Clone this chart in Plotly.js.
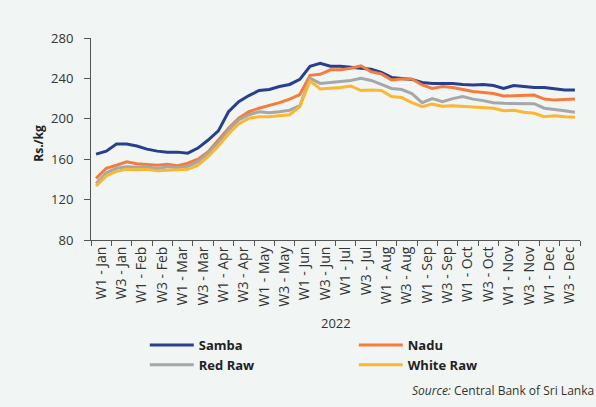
<!DOCTYPE html>
<html>
<head>
<meta charset="utf-8">
<script src="https://cdn.plot.ly/plotly-3.0.1.min.js"></script>
<style>html,body{margin:0;padding:0;background:#f1f6f4;}#chart{width:596px;height:407px;}</style>
</head>
<body>
<div id="chart"></div>
<script>
const months = ["Jan","Feb","Mar","Apr","May","Jun","Jul","Aug","Sep","Oct","Nov","Dec"];
const tickLabels = [];
months.forEach(m => { tickLabels.push("W1 - " + m); tickLabels.push("W3 - " + m); });

const samba = [165,168,175,175,173,170,168,167,167,166,171,179,188,207,217,223,228,229,232,234,239,252,255,252,252,251,250,249,246,241,240,239,236,235,235,235,234,233.5,234,233,230,233,232,231,231,229.5,228.5,228.5];
const nadu = [141,151,154,157.5,155.5,155,154,155,153.5,156,160,167.5,179,190.5,200.5,207,210.5,213,216,219.5,224,243,244,248.5,248.5,250,252.5,246.5,244.5,238.5,239.5,239.5,233.5,230,232,231,229,227,226,225,222.5,223,223.5,223.5,219.5,218.5,219,219.5];
const redRaw = [136,146.5,151,152.5,152,152.5,150.5,152.5,151.5,153,157.5,166,176.5,189,199,204,207,206,207,208.5,213,240,235,236,237.5,238,240,238,234,230,229,225,216,220,217,220,222,219.5,218,216,215.3,215.3,214.7,215,210.5,209.5,208,206.5];
const whiteRaw = [133.5,143.5,148,150,149.5,150,148.5,149,149,150,154,162.5,173,185,195,200.5,202,202,203,204,212,237.5,229.5,230,231,232.5,228,228.5,228,222,221,216,212,214.5,212.5,213,212.5,212,211.5,210.5,208,208.5,206.5,205.5,202,203,202,201.5];

const weeks = samba.map((_, i) => i);
const labelPos = tickLabels.map((_, k) => 2 * k + 0.5);
const boundaries = [];
for (let k = 0; k <= tickLabels.length; k++) boundaries.push(2 * k - 0.5);

const font = "'Open Sans', sans-serif";
function tr(name, y, color) {
  return {x: weeks, y: y, name: name, type: 'scatter', mode: 'lines',
          line: {color: color, width: 3}};
}
const data = [
  tr('Samba', samba, '#283f8e'),
  tr('Nadu', nadu, '#f47c3c'),
  tr('Red Raw', redRaw, '#a5a7a9'),
  tr('White Raw', whiteRaw, '#fbb731')
];
const layout = {
  width: 596, height: 407,
  paper_bgcolor: '#f1f6f4', plot_bgcolor: '#f1f6f4',
  margin: {l: 91, r: 16, t: 38, b: 167},
  font: {family: font, size: 12, color: '#333'},
  showlegend: true,
  legend: {orientation: 'h', x: 0.11, xanchor: 'left', y: -0.4455, yanchor: 'top',
           entrywidth: 150, entrywidthmode: 'pixels', itemwidth: 44,
           font: {family: font, size: 13, color: '#222', weight: 'bold'},
           tracegroupgap: 0, bgcolor: 'rgba(0,0,0,0)'},
  xaxis: {range: [-0.5, 47.5], tickvals: labelPos, ticktext: tickLabels,
          tickangle: -90, ticks: '', showgrid: false, zeroline: false,
          showline: true, linecolor: '#555', linewidth: 1,
          tickfont: {family: font, size: 14, color: '#333'},
          minor: {tickmode: 'array', tickvals: boundaries, ticks: 'outside', ticklen: 5, tickcolor: '#555', showgrid: false}},
  yaxis: {range: [80, 280], tickvals: [80,120,160,200,240,280], ticks: 'outside', ticklen: 6,
          tickcolor: '#555', showgrid: false, zeroline: false, showline: true,
          ticklabelstandoff: 8,
          linecolor: '#555', linewidth: 1, tickfont: {family: font, size: 13, color: '#333'}},
  annotations: [
    {text: 'Rs./kg', xref: 'paper', yref: 'paper', x: -0.109, xanchor: 'center', y: 0.48, yanchor: 'middle', textangle: -90,
     showarrow: false, font: {family: font, size: 12, color: '#222', weight: 'bold'}},
    {text: '2022', xref: 'paper', yref: 'paper', x: 0.5, xanchor: 'center', y: -0.41, yanchor: 'middle',
     showarrow: false, font: {family: font, size: 13, color: '#333'}},
    {text: '<i>Source:</i> Central Bank of Sri Lanka', xref: 'paper', yref: 'paper',
     x: 1.033, xanchor: 'right', y: -0.743, yanchor: 'middle', showarrow: false,
     font: {family: font, size: 12, color: '#333'}}
  ]
};
Plotly.newPlot('chart', data, layout, {displayModeBar: false, staticPlot: true});
</script>
</body>
</html>
